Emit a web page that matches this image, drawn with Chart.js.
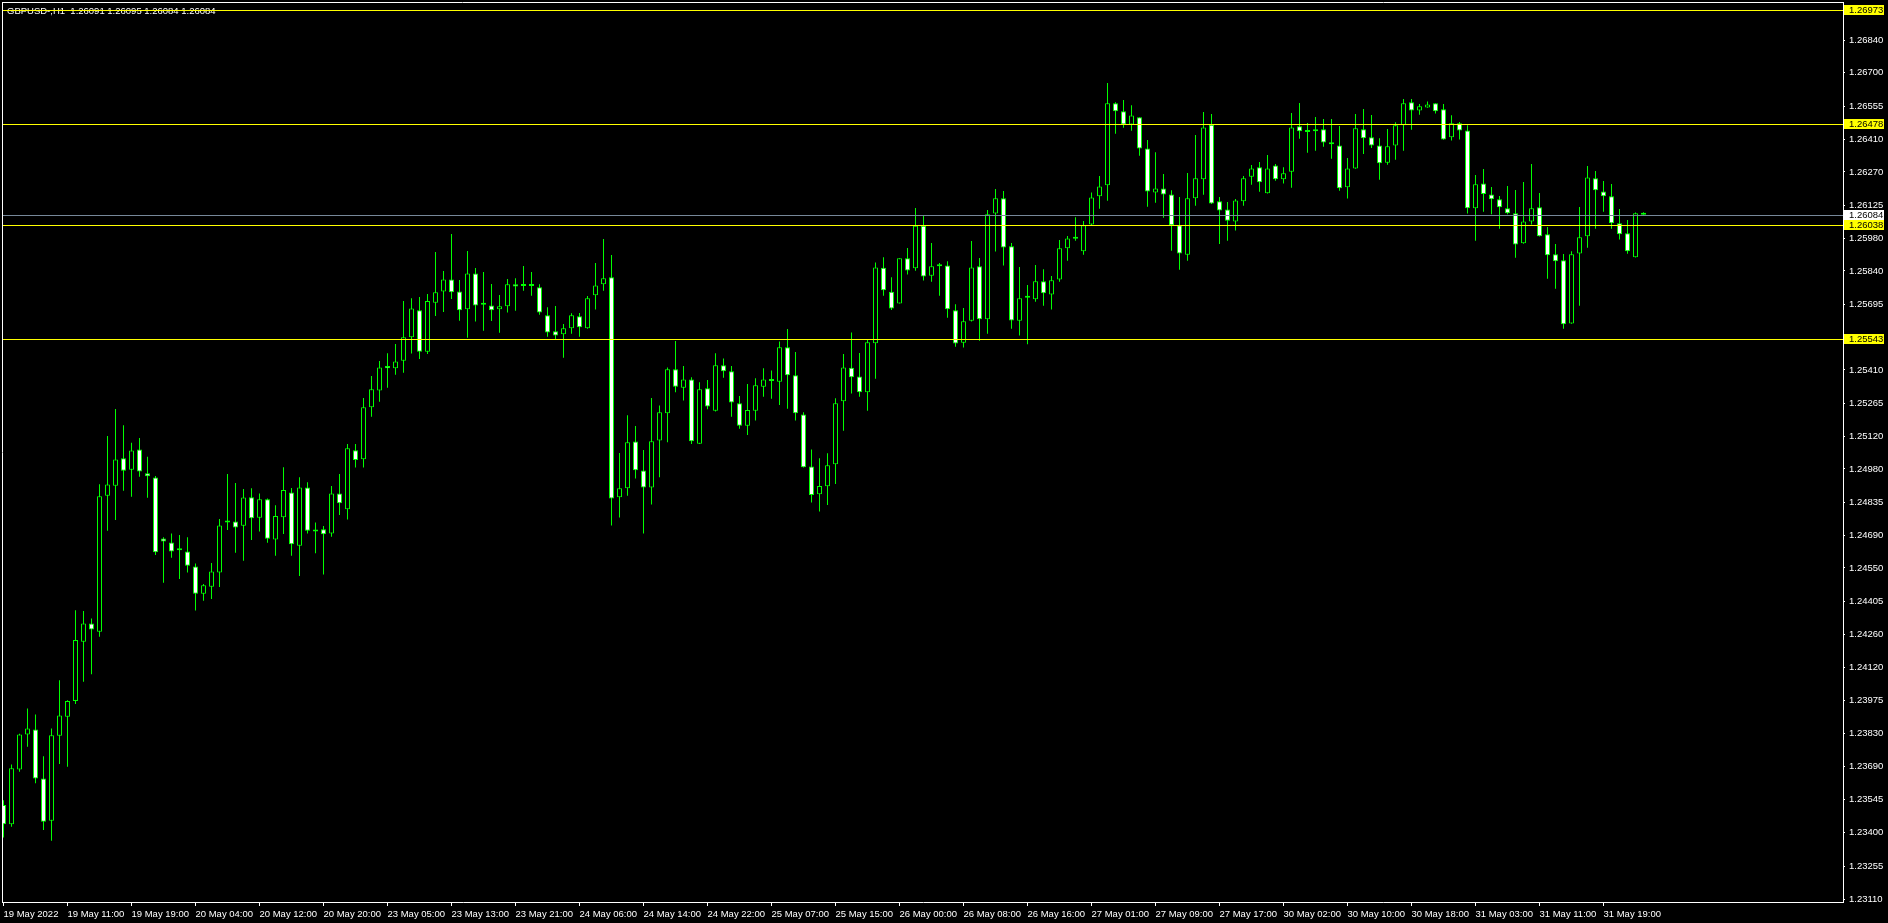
<!DOCTYPE html>
<html>
<head>
<meta charset="utf-8">
<title>GBPUSD-,H1</title>
<script src="https://cdn.jsdelivr.net/npm/chart.js@4.4.1/dist/chart.umd.min.js"></script>
<style>
  html, body { margin: 0; padding: 0; background: #000; overflow: hidden; }
  canvas { display: block; }
</style>
</head>
<body>
<canvas id="chart" width="1888" height="923"></canvas>
<script>
const symbolName = "GBPUSD-,H1";

// H1 bars, oldest first (19 May 03:00 ... 31 May)
const openPrices = [
  1.23521, 1.23437, 1.23675, 1.23827, 1.23849, 1.23636, 1.23452, 1.23822, 1.23904, 1.23973,
  1.24230, 1.24309, 1.24273, 1.24864, 1.24907, 1.25026, 1.24977, 1.25065, 1.24961, 1.24943,
  1.24678, 1.24661, 1.24627, 1.24622, 1.24557, 1.24438, 1.24469, 1.24530, 1.24748, 1.24752,
  1.24733, 1.24857, 1.24768, 1.24848, 1.24674, 1.24770, 1.24878, 1.24647, 1.24900, 1.24712,
  1.24718, 1.24700, 1.24874, 1.24805, 1.25061, 1.25022, 1.25248, 1.25321, 1.25427, 1.25417,
  1.25450, 1.25552, 1.25669, 1.25489, 1.25702, 1.25751, 1.25803, 1.25751, 1.25673, 1.25829,
  1.25693, 1.25690, 1.25673, 1.25686, 1.25782, 1.25776, 1.25775, 1.25769, 1.25647, 1.25578,
  1.25565, 1.25591, 1.25643, 1.25591, 1.25734, 1.25782, 1.25812, 1.24857, 1.24896, 1.25099,
  1.24973, 1.24900, 1.25104, 1.25222, 1.25413, 1.25333, 1.25369, 1.25090, 1.25330, 1.25233,
  1.25430, 1.25404, 1.25265, 1.25168, 1.25233, 1.25337, 1.25363, 1.25359, 1.25508, 1.25387,
  1.25217, 1.24991, 1.24870, 1.24905, 1.25000, 1.25274, 1.25420, 1.25381, 1.25313, 1.25526,
  1.25854, 1.25750, 1.25699, 1.25895, 1.25851, 1.26036, 1.25819, 1.25860, 1.25863, 1.25669,
  1.25528, 1.25624, 1.25860, 1.25630, 1.26089, 1.26155, 1.25947, 1.25624, 1.25723, 1.25717,
  1.25795, 1.25738, 1.25803, 1.25938, 1.25980, 1.25925, 1.26041, 1.26164, 1.26212, 1.26568,
  1.26533, 1.26476, 1.26507, 1.26372, 1.26181, 1.26198, 1.26172, 1.26038, 1.25910, 1.26155,
  1.26238, 1.26475, 1.26142, 1.26107, 1.26054, 1.26142, 1.26249, 1.26290, 1.26177, 1.26298,
  1.26238, 1.26271, 1.26468, 1.26445, 1.26446, 1.26455, 1.26398, 1.26385, 1.26203, 1.26285,
  1.26455, 1.26420, 1.26385, 1.26310, 1.26385, 1.26472, 1.26572, 1.26537, 1.26550, 1.26568,
  1.26542, 1.26420, 1.26481, 1.26450, 1.26112, 1.26220, 1.26172, 1.26151, 1.26112, 1.26090,
  1.25960, 1.26055, 1.26116, 1.25999, 1.25912, 1.25886, 1.25612, 1.25916, 1.25990, 1.26242,
  1.26185, 1.26164, 1.26047, 1.26003, 1.25899, 1.26091
];
const highPrices = [
  1.23542, 1.23697, 1.23830, 1.23940, 1.23914, 1.23733, 1.23853, 1.24063, 1.23976, 1.24367,
  1.24363, 1.24331, 1.24914, 1.25123, 1.25240, 1.25170, 1.25094, 1.25114, 1.25033, 1.24949,
  1.24683, 1.24700, 1.24693, 1.24684, 1.24570, 1.24480, 1.24572, 1.24763, 1.24958, 1.24919,
  1.24893, 1.24896, 1.24874, 1.24852, 1.24822, 1.24987, 1.24897, 1.24944, 1.24922, 1.24748,
  1.24732, 1.24906, 1.24958, 1.25088, 1.25088, 1.25288, 1.25384, 1.25449, 1.25483, 1.25523,
  1.25709, 1.25721, 1.25727, 1.25740, 1.25922, 1.25840, 1.26000, 1.25801, 1.25926, 1.25853,
  1.25835, 1.25783, 1.25735, 1.25805, 1.25808, 1.25861, 1.25835, 1.25782, 1.25682, 1.25688,
  1.25609, 1.25656, 1.25657, 1.25731, 1.25874, 1.25979, 1.25909, 1.25049, 1.25213, 1.25167,
  1.25062, 1.25288, 1.25256, 1.25421, 1.25536, 1.25427, 1.25378, 1.25356, 1.25366, 1.25482,
  1.25460, 1.25427, 1.25297, 1.25349, 1.25374, 1.25417, 1.25408, 1.25534, 1.25588, 1.25488,
  1.25226, 1.25065, 1.25026, 1.25048, 1.25287, 1.25479, 1.25573, 1.25484, 1.25540, 1.25877,
  1.25899, 1.25812, 1.25895, 1.25939, 1.26113, 1.26078, 1.25961, 1.25874, 1.25882, 1.25695,
  1.25679, 1.25970, 1.25896, 1.26104, 1.26196, 1.26187, 1.25961, 1.25857, 1.25779, 1.25866,
  1.25847, 1.25818, 1.25974, 1.25992, 1.26073, 1.26057, 1.26181, 1.26252, 1.26656, 1.26572,
  1.26582, 1.26559, 1.26507, 1.26408, 1.26355, 1.26261, 1.26190, 1.26161, 1.26265, 1.26430,
  1.26530, 1.26521, 1.26161, 1.26139, 1.26152, 1.26252, 1.26300, 1.26313, 1.26343, 1.26304,
  1.26290, 1.26526, 1.26569, 1.26482, 1.26508, 1.26500, 1.26500, 1.26469, 1.26330, 1.26521,
  1.26543, 1.26517, 1.26416, 1.26456, 1.26485, 1.26586, 1.26586, 1.26565, 1.26576, 1.26568,
  1.26565, 1.26516, 1.26487, 1.26472, 1.26256, 1.26282, 1.26204, 1.26165, 1.26209, 1.26191,
  1.26226, 1.26304, 1.26178, 1.26031, 1.25957, 1.25913, 1.25925, 1.26118, 1.26296, 1.26274,
  1.26230, 1.26217, 1.26109, 1.26061, 1.26094, 1.26095
];
const lowPrices = [
  1.23380, 1.23426, 1.23665, 1.23774, 1.23615, 1.23412, 1.23366, 1.23699, 1.23687, 1.23959,
  1.24056, 1.24089, 1.24252, 1.24712, 1.24758, 1.24885, 1.24859, 1.24946, 1.24855, 1.24606,
  1.24486, 1.24594, 1.24502, 1.24530, 1.24365, 1.24408, 1.24415, 1.24467, 1.24715, 1.24616,
  1.24582, 1.24672, 1.24708, 1.24660, 1.24603, 1.24698, 1.24603, 1.24515, 1.24700, 1.24614,
  1.24522, 1.24686, 1.24780, 1.24761, 1.24986, 1.24986, 1.25207, 1.25272, 1.25333, 1.25389,
  1.25398, 1.25481, 1.25457, 1.25479, 1.25644, 1.25662, 1.25718, 1.25624, 1.25550, 1.25620,
  1.25580, 1.25622, 1.25572, 1.25659, 1.25667, 1.25754, 1.25732, 1.25650, 1.25554, 1.25544,
  1.25463, 1.25567, 1.25554, 1.25589, 1.25672, 1.25754, 1.24734, 1.24769, 1.24864, 1.24939,
  1.24700, 1.24826, 1.24944, 1.25096, 1.25313, 1.25277, 1.25088, 1.25088, 1.25239, 1.25229,
  1.25376, 1.25207, 1.25155, 1.25127, 1.25190, 1.25294, 1.25285, 1.25258, 1.25242, 1.25190,
  1.24986, 1.24834, 1.24795, 1.24823, 1.24915, 1.25146, 1.25308, 1.25294, 1.25233, 1.25372,
  1.25732, 1.25670, 1.25699, 1.25824, 1.25841, 1.25798, 1.25793, 1.25732, 1.25637, 1.25511,
  1.25507, 1.25620, 1.25537, 1.25567, 1.25924, 1.25863, 1.25589, 1.25559, 1.25521, 1.25706,
  1.25689, 1.25672, 1.25793, 1.25884, 1.25971, 1.25910, 1.26036, 1.26110, 1.26145, 1.26436,
  1.26462, 1.26449, 1.26340, 1.26119, 1.26136, 1.26071, 1.25928, 1.25845, 1.25884, 1.26123,
  1.26171, 1.26130, 1.25957, 1.25971, 1.26015, 1.26123, 1.26214, 1.26184, 1.26176, 1.26231,
  1.26219, 1.26201, 1.26414, 1.26353, 1.26362, 1.26379, 1.26327, 1.26188, 1.26154, 1.26284,
  1.26348, 1.26374, 1.26236, 1.26301, 1.26323, 1.26362, 1.26453, 1.26518, 1.26549, 1.26523,
  1.26410, 1.26406, 1.26411, 1.26089, 1.25971, 1.26097, 1.26086, 1.26023, 1.26086, 1.25897,
  1.25958, 1.26042, 1.25989, 1.25806, 1.25763, 1.25589, 1.25611, 1.25689, 1.25941, 1.26023,
  1.26097, 1.26023, 1.25976, 1.25915, 1.25898, 1.26084
];
const closePrices = [
  1.23437, 1.23680, 1.23827, 1.23853, 1.23636, 1.23448, 1.23824, 1.23910, 1.23972, 1.24237,
  1.24309, 1.24283, 1.24861, 1.24913, 1.25021, 1.24972, 1.25060, 1.24969, 1.24948, 1.24618,
  1.24665, 1.24622, 1.24629, 1.24560, 1.24438, 1.24475, 1.24535, 1.24735, 1.24751, 1.24726,
  1.24856, 1.24766, 1.24848, 1.24677, 1.24776, 1.24889, 1.24653, 1.24900, 1.24712, 1.24709,
  1.24696, 1.24874, 1.24831, 1.25070, 1.25019, 1.25248, 1.25326, 1.25421, 1.25417, 1.25447,
  1.25552, 1.25677, 1.25489, 1.25709, 1.25747, 1.25803, 1.25747, 1.25669, 1.25829, 1.25690,
  1.25696, 1.25669, 1.25686, 1.25782, 1.25772, 1.25775, 1.25776, 1.25659, 1.25573, 1.25560,
  1.25591, 1.25647, 1.25595, 1.25721, 1.25777, 1.25808, 1.24852, 1.24896, 1.25096, 1.24974,
  1.24900, 1.25100, 1.25226, 1.25413, 1.25337, 1.25369, 1.25100, 1.25326, 1.25251, 1.25430,
  1.25404, 1.25269, 1.25168, 1.25236, 1.25343, 1.25369, 1.25362, 1.25508, 1.25387, 1.25222,
  1.24987, 1.24867, 1.24906, 1.24996, 1.25265, 1.25421, 1.25378, 1.25313, 1.25530, 1.25855,
  1.25756, 1.25677, 1.25895, 1.25842, 1.26036, 1.25816, 1.25860, 1.25863, 1.25673, 1.25525,
  1.25621, 1.25855, 1.25630, 1.26086, 1.26155, 1.25942, 1.25625, 1.25721, 1.25724, 1.25795,
  1.25743, 1.25799, 1.25938, 1.25981, 1.25983, 1.26038, 1.26159, 1.26207, 1.26568, 1.26533,
  1.26476, 1.26515, 1.26372, 1.26185, 1.26198, 1.26172, 1.26038, 1.25916, 1.26155, 1.26242,
  1.26463, 1.26133, 1.26102, 1.26058, 1.26146, 1.26242, 1.26285, 1.26225, 1.26285, 1.26238,
  1.26264, 1.26463, 1.26446, 1.26443, 1.26455, 1.26398, 1.26390, 1.26199, 1.26285, 1.26459,
  1.26416, 1.26385, 1.26307, 1.26381, 1.26472, 1.26568, 1.26537, 1.26555, 1.26563, 1.26533,
  1.26411, 1.26481, 1.26450, 1.26112, 1.26216, 1.26174, 1.26151, 1.26116, 1.26090, 1.25955,
  1.26055, 1.26112, 1.25990, 1.25908, 1.25882, 1.25608, 1.25912, 1.25986, 1.26246, 1.26190,
  1.26164, 1.26047, 1.25999, 1.25925, 1.26090, 1.26084
];

// price scale labels on the right
const yTickValues = [
  1.26840, 1.26700, 1.26555, 1.26410, 1.26270, 1.26125, 1.25980, 1.25840, 1.25695,
  1.25410, 1.25265, 1.25120, 1.24980, 1.24835, 1.24690, 1.24550, 1.24405, 1.24260,
  1.24120, 1.23975, 1.23830, 1.23690, 1.23545, 1.23400, 1.23255, 1.23110
];
// time scale labels, one every 8 bars
const xTickLabels = [
  "19 May 2022", "19 May 11:00", "19 May 19:00", "20 May 04:00", "20 May 12:00",
  "20 May 20:00", "23 May 05:00", "23 May 13:00", "23 May 21:00", "24 May 06:00",
  "24 May 14:00", "24 May 22:00", "25 May 07:00", "25 May 15:00", "26 May 00:00",
  "26 May 08:00", "26 May 16:00", "27 May 01:00", "27 May 09:00", "27 May 17:00",
  "30 May 02:00", "30 May 10:00", "30 May 18:00", "31 May 03:00", "31 May 11:00",
  "31 May 19:00"
];
const labelEvery = 8;

// horizontal lines drawn on the chart
const levelLines = [1.26973, 1.26478, 1.26038, 1.25543];
const bidPrice = 1.26084;

const FONT = '"Liberation Sans", Arial, sans-serif';
const GREEN = '#00ff00';

const bodies = openPrices.map((o, i) => ({ x: i, y: [o, closePrices[i]] }));
const wicks = lowPrices.map((l, i) => ({ x: i, y: [l, highPrices[i]] }));
const bodyColors = openPrices.map((o, i) => closePrices[i] >= o ? '#000000' : '#ffffff');

const mtOverlay = {
    id: 'mtOverlay',
    beforeDraw(chart) {
        const ctx = chart.ctx;
        ctx.save();
        ctx.fillStyle = '#000000';
        ctx.fillRect(0, 0, chart.width, chart.height);
        ctx.restore();
    },
    afterDraw(chart) {
        const { ctx, chartArea: a } = chart;
        const y = chart.scales.y;
        ctx.save();

        // frame top / left
        ctx.strokeStyle = '#ffffff';
        ctx.lineWidth = 1;
        ctx.beginPath();
        ctx.moveTo(2, 2.5);
        ctx.lineTo(a.right + 1, 2.5);
        ctx.moveTo(2.5, 2);
        ctx.lineTo(2.5, a.bottom + 1);
        ctx.stroke();

        // header
        const n = openPrices.length - 1;
        const header = symbolName + '  ' + [openPrices[n], highPrices[n], lowPrices[n], closePrices[n]]
            .map(v => v.toFixed(5)).join(' ');
        ctx.font = '9.5px ' + FONT;
        ctx.fillStyle = '#ffffff';
        ctx.textBaseline = 'alphabetic';
        ctx.textAlign = 'left';
        ctx.fillText(header, 7, 14);

        const hline = (p, color) => {
            const py = Math.round(y.getPixelForValue(p)) + 0.5;
            ctx.strokeStyle = color;
            ctx.beginPath();
            ctx.moveTo(a.left, py);
            ctx.lineTo(a.right, py);
            ctx.stroke();
        };
        hline(bidPrice, '#778899');
        levelLines.forEach(p => hline(p, '#ffff00'));

        const tag = (p, bg) => {
            const py = Math.round(y.getPixelForValue(p));
            ctx.fillStyle = bg;
            ctx.fillRect(a.right + 1, py - 5, 40, 10);
            ctx.fillStyle = '#000000';
            ctx.textBaseline = 'middle';
            ctx.fillText(p.toFixed(5), a.right + 6, py + 0.5);
        };
        tag(bidPrice, '#ffffff');
        levelLines.forEach(p => tag(p, '#ffff00'));
        ctx.restore();
    }
};

Chart.defaults.font.family = FONT;
Chart.defaults.font.size = 9.5;
Chart.defaults.color = '#ffffff';

new Chart(document.getElementById('chart'), {
    type: 'bar',
    data: {
        datasets: [{
            label: 'body',
            data: bodies,
            order: 0,
            grouped: false,
            barThickness: 5,
            backgroundColor: bodyColors,
            borderColor: GREEN,
            borderWidth: 1,
            borderSkipped: false,
            inflateAmount: 0,
            minBarLength: 2,
            clip: 0
        }, {
            label: 'wick',
            data: wicks,
            order: 1,
            grouped: false,
            barThickness: 1,
            backgroundColor: GREEN,
            borderWidth: 0,
            inflateAmount: 0,
            clip: 0
        }]
    },
    options: {
        responsive: false,
        animation: false,
        devicePixelRatio: 1,
        events: [],
        layout: { padding: { left: 3, top: 3, right: 0, bottom: 0 } },
        plugins: {
            legend: { display: false },
            tooltip: { enabled: false },
            title: { display: false }
        },
        scales: {
            x: {
                type: 'linear',
                offset: false,
                min: -0.0625,
                max: 229.9375,
                afterBuildTicks: (scale) => {
                    scale.ticks = xTickLabels.map((_, k) => ({ value: k * labelEvery }));
                },
                afterFit: (scale) => {
                    scale.height = 21;
                    scale.paddingLeft = 0;
                    scale.paddingRight = 0;
                },
                ticks: {
                    autoSkip: false,
                    maxRotation: 0,
                    minRotation: 0,
                    align: 'start',
                    padding: 3,
                    color: '#ffffff',
                    font: { size: 9.5 },
                    callback: (v, i) => xTickLabels[i]
                },
                grid: {
                    offset: false,
                    drawOnChartArea: false,
                    drawTicks: true,
                    tickLength: 4,
                    tickColor: '#ffffff'
                },
                border: { display: true, color: '#ffffff', width: 1 }
            },
            y: {
                type: 'linear',
                position: 'right',
                min: 1.230997,
                max: 1.270033,
                afterBuildTicks: (scale) => {
                    scale.ticks = yTickValues.map(v => ({ value: v }));
                },
                afterFit: (scale) => {
                    scale.width = 45;
                    scale.paddingTop = 0;
                    scale.paddingBottom = 0;
                },
                ticks: {
                    autoSkip: false,
                    padding: 4,
                    color: '#ffffff',
                    font: { size: 9.5 },
                    callback: (v) => Number(v).toFixed(5)
                },
                grid: {
                    drawOnChartArea: false,
                    drawTicks: true,
                    tickLength: 2,
                    tickColor: '#ffffff'
                },
                border: { display: true, color: '#ffffff', width: 1 }
            }
        }
    },
    plugins: [mtOverlay]
});
</script>
</body>
</html>
